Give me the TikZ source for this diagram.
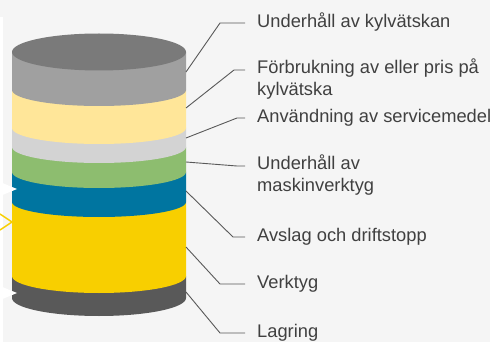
\documentclass[tikz,border=0pt]{standalone}
\usepackage{fontspec}
\setmainfont{Liberation Sans}

\definecolor{bg}{HTML}{F5F5F5}
\definecolor{topgray}{HTML}{7A7A7A}
\definecolor{midgray}{HTML}{A0A0A0}
\definecolor{paleyellow}{HTML}{FFE699}
\definecolor{lgray}{HTML}{D3D3D3}
\definecolor{leafgreen}{HTML}{8DBD6F}
\definecolor{petrol}{HTML}{0075A0}
\definecolor{gold}{HTML}{F8CF00}
\definecolor{dgray}{HTML}{595959}
\definecolor{textgray}{HTML}{404040}

\tikzset{
  lbl/.style={anchor=base west, inner xsep=12pt, inner ysep=0pt, align=left,
    text=textgray, font=\fontsize{18.3}{22}\selectfont},
  leader/.style={draw=dgray, line width=0.9pt},
}

\begin{document}
\begin{tikzpicture}[x=1pt,y=-1pt]
  \useasboundingbox (0,0) rectangle (490,342);
  \fill[bg] (0,0) rectangle (490,342);
  \fill[white] (0,17) rectangle (2.5,342);

  % cylinder, bottom band first
  \foreach \col/\yt/\yb/\ry in {dgray/276/298/18, gold/202/276/17,
      petrol/172/202/15, leafgreen/147/172/16, lgray/128/147/16,
      paleyellow/90/128/16, midgray/52/90/16}
    \fill[\col] (12,\yt) -- (12,\yb)
      arc[start angle=180, end angle=360, x radius=87pt, y radius=\ry pt]
      -- (186,\yt) -- cycle;
  \fill[topgray] (99,52) ellipse[x radius=87pt, y radius=18.5pt];

  % cut-off shapes at the left edge
  \fill[white] (0,182) -- (17,189) -- (0,196) -- cycle;
  \fill[white] (0,286) -- (17,293) -- (0,300) -- cycle;
  \draw[gold, line width=1.5pt] (0,214) -- (12,222) -- (0,230);

  % labels (two-line labels sit on their last line)
  \node[lbl] (l1) at (245,27.5) {Underhåll av kylvätskan};
  \node[lbl] (l2) at (245,96) {Förbrukning av eller pris på\\kylvätska};
  \node[lbl] (l3) at (245,122.5) {Användning av servicemedel};
  \node[lbl] (l4) at (245,191.5) {Underhåll av\\maskinverktyg};
  \node[lbl] (l5) at (245,241.5) {Avslag och driftstopp};
  \node[lbl] (l6) at (245,288.5) {Verktyg};
  \node[lbl] (l7) at (245,337.5) {Lagring};

  % leader lines
  \coordinate (c1) at (186,72);  \coordinate (k1) at (220,23);
  \coordinate (c2) at (186,108); \coordinate (k2) at (234,70);
  \coordinate (c3) at (186,138); \coordinate (k3) at (237,118);
  \coordinate (c4) at (186,162); \coordinate (k4) at (237,166);
  \coordinate (c5) at (186,191); \coordinate (k5) at (233,237);
  \coordinate (c6) at (186,247); \coordinate (k6) at (220,284);
  \coordinate (c7) at (186,292); \coordinate (k7) at (220,333);
  \foreach \i in {1,...,7}
    \draw[leader] (c\i) -- (k\i) -- (k\i -| l\i.west);
\end{tikzpicture}
\end{document}
